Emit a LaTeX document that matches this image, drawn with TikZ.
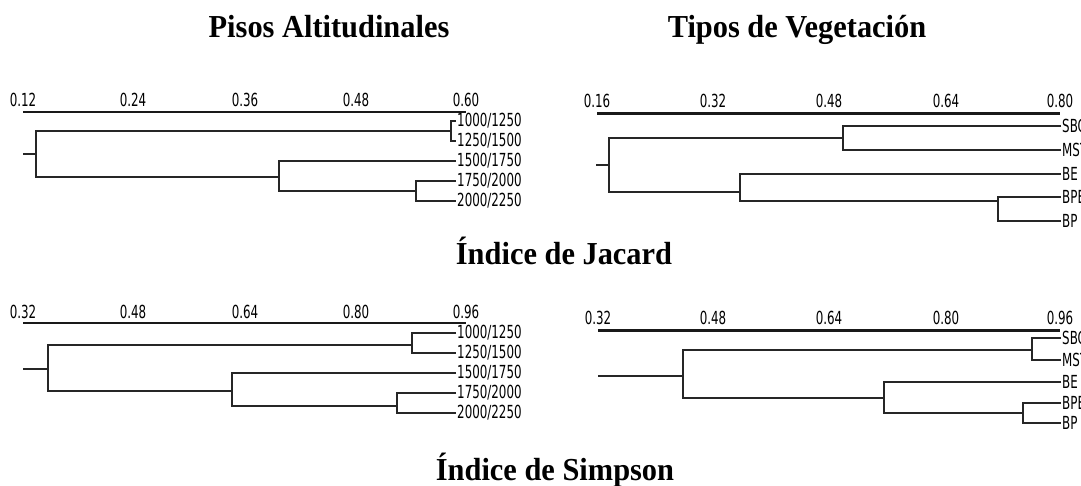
\documentclass[tikz,border=0pt]{standalone}
\usepackage{fontspec}
\setmainfont{Liberation Serif}
\newfontfamily\plotfont{DejaVu Sans}
\newcommand\plottext[1]{\scalebox{0.66}[1]{\plotfont\fontsize{18}{18}\selectfont #1}}
\newcommand\titletext[1]{\scalebox{0.95}[1]{\fontsize{32}{32}\selectfont\bfseries #1}}
\tikzset{
  dl/.style={line width=1.4pt, draw=black!85},
  axisline/.style={line width=2.6pt, draw=black!90},
  leaf/.style={inner sep=1pt, anchor=west},
  ticklab/.style={inner sep=0pt, anchor=center},
  ttl/.style={inner sep=0pt, anchor=base},
}
\begin{document}
\begin{tikzpicture}[x=1pt,y=-1pt]
\useasboundingbox[fill=white] (0,0) rectangle (1081,485);

% titles
\node[ttl] (t1) at (329,37) {\titletext{Pisos Altitudinales}};
\node[ttl] (t2) at (797,37) {\titletext{Tipos de Vegetación}};
\node[ttl] (t3) at (564,264) {\titletext{Índice de Jacard}};
\node[ttl] (t4) at (555,480) {\titletext{Índice de Simpson}};

% ---------- top left ----------
\coordinate (axA0) at (23,112); \coordinate (axA1) at (466,112);
\draw[axisline] (axA0) -- (axA1);
\node[ticklab] (ta1) at (23,100) {\plottext{0.12}};
\node[ticklab] (ta2) at (133,100) {\plottext{0.24}};
\node[ticklab] (ta3) at (245,100) {\plottext{0.36}};
\node[ticklab] (ta4) at (356,100) {\plottext{0.48}};
\node[ticklab] (ta5) at (466,100) {\plottext{0.60}};
\node[leaf] (A1) at (456,121) {\plottext{1000/1250}};
\node[leaf] (A2) at (456,141) {\plottext{1250/1500}};
\node[leaf] (A3) at (456,161) {\plottext{1500/1750}};
\node[leaf] (A4) at (456,181) {\plottext{1750/2000}};
\node[leaf] (A5) at (456,201) {\plottext{2000/2250}};
\coordinate (ja12) at (451,131);
\coordinate (ja45) at (416,191);
\coordinate (ja345) at (279,177);
\coordinate (jar) at (36,154);
\coordinate (jas) at (23,154);
\draw[dl] (A1.west) -| (ja12) |- (A2.west);
\draw[dl] (A4.west) -| (ja45) |- (A5.west);
\draw[dl] (A3.west) -| (ja345) |- (ja45);
\draw[dl] (ja12) -| (jar) |- (ja345);
\draw[dl] (jar) -- (jas);

% ---------- top right ----------
\coordinate (axB0) at (597,113); \coordinate (axB1) at (1060,113);
\draw[axisline, line width=3pt] (axB0) -- (axB1);
\node[ticklab] (tb1) at (597,101) {\plottext{0.16}};
\node[ticklab] (tb2) at (713,101) {\plottext{0.32}};
\node[ticklab] (tb3) at (829,101) {\plottext{0.48}};
\node[ticklab] (tb4) at (946,101) {\plottext{0.64}};
\node[ticklab] (tb5) at (1060,101) {\plottext{0.80}};
\node[leaf] (B1) at (1061,126) {\plottext{SBC}};
\node[leaf] (B2) at (1061,150) {\plottext{MST}};
\node[leaf] (B3) at (1061,174) {\plottext{BE}};
\node[leaf] (B4) at (1061,197) {\plottext{BPE}};
\node[leaf] (B5) at (1061,221) {\plottext{BP}};
\coordinate (jb12) at (843,138);
\coordinate (jb45) at (998,201);
\coordinate (jb345) at (740,192);
\coordinate (jbr) at (609,165);
\coordinate (jbs) at (596,165);
\draw[dl] (B1.west) -| (jb12) |- (B2.west);
\draw[dl] (B4.west) -| (jb45) |- (B5.west);
\draw[dl] (B3.west) -| (jb345) |- (jb45);
\draw[dl] (jb12) -| (jbr) |- (jb345);
\draw[dl] (jbr) -- (jbs);

% ---------- bottom left ----------
\coordinate (axC0) at (23,323); \coordinate (axC1) at (466,323);
\draw[axisline] (axC0) -- (axC1);
\node[ticklab] (tc1) at (23,312) {\plottext{0.32}};
\node[ticklab] (tc2) at (133,312) {\plottext{0.48}};
\node[ticklab] (tc3) at (245,312) {\plottext{0.64}};
\node[ticklab] (tc4) at (356,312) {\plottext{0.80}};
\node[ticklab] (tc5) at (466,312) {\plottext{0.96}};
\node[leaf] (C1) at (456,333) {\plottext{1000/1250}};
\node[leaf] (C2) at (456,353) {\plottext{1250/1500}};
\node[leaf] (C3) at (456,373) {\plottext{1500/1750}};
\node[leaf] (C4) at (456,393) {\plottext{1750/2000}};
\node[leaf] (C5) at (456,413) {\plottext{2000/2250}};
\coordinate (jc12) at (412,345);
\coordinate (jc45) at (397,406);
\coordinate (jc345) at (232,391);
\coordinate (jcr) at (48,369);
\coordinate (jcs) at (23,369);
\draw[dl] (C1.west) -| (jc12) |- (C2.west);
\draw[dl] (C4.west) -| (jc45) |- (C5.west);
\draw[dl] (C3.west) -| (jc345) |- (jc45);
\draw[dl] (jc12) -| (jcr) |- (jc345);
\draw[dl] (jcr) -- (jcs);

% ---------- bottom right ----------
\coordinate (axD0) at (598,330); \coordinate (axD1) at (1060,330);
\draw[axisline, line width=3pt] (axD0) -- (axD1);
\node[ticklab] (td1) at (598,318) {\plottext{0.32}};
\node[ticklab] (td2) at (713,318) {\plottext{0.48}};
\node[ticklab] (td3) at (829,318) {\plottext{0.64}};
\node[ticklab] (td4) at (946,318) {\plottext{0.80}};
\node[ticklab] (td5) at (1060,318) {\plottext{0.96}};
\node[leaf] (D1) at (1061,338) {\plottext{SBC}};
\node[leaf] (D2) at (1061,360) {\plottext{MST}};
\node[leaf] (D3) at (1061,382) {\plottext{BE}};
\node[leaf] (D4) at (1061,403) {\plottext{BPE}};
\node[leaf] (D5) at (1061,423) {\plottext{BP}};
\coordinate (jd12) at (1032,350);
\coordinate (jd45) at (1023,413);
\coordinate (jd345) at (884,398);
\coordinate (jdr) at (683,376);
\coordinate (jds) at (598,376);
\draw[dl] (D1.west) -| (jd12) |- (D2.west);
\draw[dl] (D4.west) -| (jd45) |- (D5.west);
\draw[dl] (D3.west) -| (jd345) |- (jd45);
\draw[dl] (jd12) -| (jdr) |- (jd345);
\draw[dl] (jdr) -- (jds);
\end{tikzpicture}
\end{document}
